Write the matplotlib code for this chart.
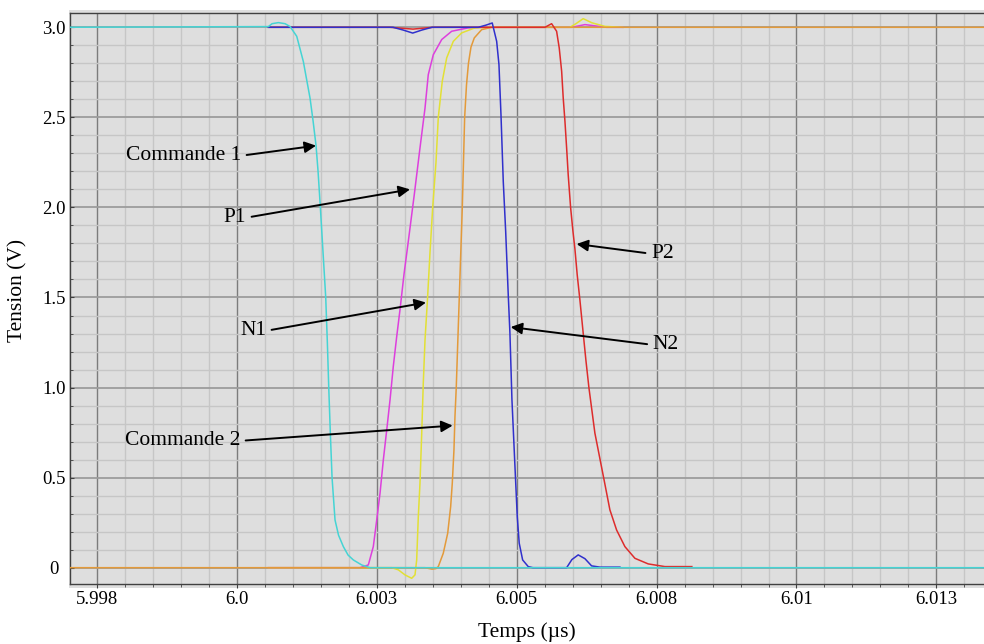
import matplotlib
matplotlib.use("Agg")
import matplotlib.pyplot as plt
from matplotlib.ticker import MultipleLocator, FixedLocator, FixedFormatter
from matplotlib.patches import Rectangle

plt.rcParams['font.family'] = ['Liberation Serif', 'DejaVu Serif']

# --- data (time in µs, voltage in V) ---
cmd1_t = [5.99680, 6.000564, 6.00063, 6.000743, 6.000863, 6.000952, 6.001071, 6.001189,
          6.001309, 6.001363, 6.001416, 6.001452, 6.001493, 6.001541, 6.001589, 6.001618,
          6.001643, 6.001671, 6.001702, 6.001755, 6.001818, 6.001904, 6.001988, 6.002082,
          6.002232, 6.00238, 6.0136]
cmd1_v = [3.0, 3.004, 3.02, 3.026, 3.02, 3.004, 2.95, 2.81,
          2.606, 2.48, 2.343, 2.2, 2.0, 1.75, 1.5, 1.25,
          1.0, 0.75, 0.5, 0.265, 0.18, 0.117, 0.07, 0.043,
          0.015, 0.0, 0.0]

cmd2_t = [5.99680, 6.003363, 6.003488, 6.003559, 6.0036, 6.003689, 6.003768, 6.003821,
          6.00385, 6.00388, 6.003898, 6.003921, 6.003948, 6.003975, 6.004002, 6.004029,
          6.00405, 6.004071, 6.004104, 6.004139, 6.004184, 6.004243, 6.004375, 6.004554,
          6.0136]
cmd2_v = [0.0, 0.0, -0.008, -0.005, 0.006, 0.08, 0.191, 0.339,
          0.469, 0.654, 0.839, 1.0, 1.25, 1.5, 1.75, 2.0,
          2.25, 2.5, 2.68, 2.8, 2.89, 2.941, 2.987, 3.0,
          3.0]

p1_t = [6.000564, 6.002202, 6.00235, 6.002439, 6.0025, 6.002559, 6.002618, 6.002679,
        6.002738, 6.002796, 6.002857, 6.002916, 6.002988, 6.003064, 6.003171, 6.003273,
        6.003363, 6.003421, 6.003511, 6.003661, 6.003839, 6.004136, 6.004345, 6.005982,
        6.00622, 6.006607, 6.006898]
p1_v = [0.0, 0.0, 0.015, 0.117, 0.265, 0.413, 0.598, 0.765,
        0.932, 1.117, 1.283, 1.432, 1.63, 1.811, 2.071, 2.33,
        2.552, 2.737, 2.848, 2.932, 2.978, 2.997, 3.0, 3.0,
        3.015, 3.0, 3.0]

n1_t = [6.000564, 6.002768, 6.002886, 6.003005, 6.003125, 6.003184, 6.003214, 6.003243,
        6.003273, 6.003304, 6.003332, 6.003363, 6.003407, 6.003452, 6.0035, 6.003559,
        6.0036, 6.003671, 6.00375, 6.003868, 6.004018, 6.004255, 6.004523, 6.005952,
        6.006059, 6.006189, 6.006345, 6.00658, 6.006898]
n1_v = [0.0, 0.0, -0.012, -0.04, -0.059, -0.04, 0.043, 0.283,
        0.469, 0.747, 1.024, 1.265, 1.49, 1.75, 2.0, 2.25,
        2.5, 2.7, 2.83, 2.922, 2.969, 2.997, 3.0, 3.0,
        3.02, 3.048, 3.025, 3.005, 3.0]

p2_t = [6.000564, 6.002738, 6.003148, 6.003505, 6.005505, 6.005625, 6.005714, 6.005761,
        6.005804, 6.005832, 6.005863, 6.005893, 6.005921, 6.005964, 6.006005, 6.006041,
        6.006082, 6.00613, 6.006189, 6.006238, 6.006291, 6.006398, 6.006554, 6.006666,
        6.006786, 6.006934, 6.007113, 6.00735, 6.007648, 6.00813]
p2_v = [3.0, 3.0, 2.99, 3.0, 3.0, 3.02, 2.978, 2.885,
        2.756, 2.608, 2.478, 2.33, 2.182, 2.0, 1.87, 1.77,
        1.626, 1.487, 1.302, 1.15, 1.0, 0.747, 0.5, 0.321,
        0.209, 0.117, 0.052, 0.021, 0.006, 0.006]

n2_t = [6.000564, 6.002791, 6.00297, 6.003143, 6.003309, 6.003488, 6.004314, 6.004452,
        6.004564, 6.004643, 6.004684, 6.00472, 6.004761, 6.004804, 6.00485, 6.00488,
        6.004916, 6.00497, 6.005011, 6.005046, 6.005107, 6.005207, 6.005291, 6.005893,
        6.005987, 6.0061, 6.00622, 6.006339, 6.006488, 6.006845]
n2_v = [3.0, 3.0, 2.985, 2.968, 2.985, 3.0, 3.0, 3.012,
        3.024, 2.922, 2.793, 2.515, 2.144, 1.867, 1.515, 1.302,
        0.932, 0.561, 0.283, 0.136, 0.043, 0.006, 0.0, 0.0,
        0.045, 0.071, 0.05, 0.01, 0.003, 0.003]

x_ticks = [5.9975, 6.0, 6.0025, 6.005, 6.0075, 6.01, 6.0125]
x_labels = ["5.998", "6.0", "6.003", "6.005", "6.008", "6.01", "6.013"]
y_ticks = [0.0, 0.5, 1.0, 1.5, 2.0, 2.5, 3.0]
y_labels = ["0", "0.5", "1.0", "1.5", "2.0", "2.5", "3.0"]

# label, text position, arrow tip, side of text the arrow leaves from
labels = [
    ("Commande 1", (6.000077, 2.287), (6.001416, 2.343), 'right'),
    ("P1", (6.000166, 1.943), (6.003095, 2.100), 'right'),
    ("N1", (6.000523, 1.315), (6.003380, 1.472), 'right'),
    ("Commande 2", (6.000059, 0.704), (6.003857, 0.789), 'right'),
    ("P2", (6.007400, 1.743), (6.006071, 1.797), 'left'),
    ("N2", (6.007430, 1.237), (6.004893, 1.336), 'left'),
]

W, H = 984, 644
bg = '#dedede'
fig = plt.figure(figsize=(W / 100, H / 100), dpi=100)
# gray panel slightly larger than the axes (ticks live inside it)
panel = Rectangle((69 / W, 1 - 588 / H), 1 - 69 / W, (588 - 10) / H,
                  transform=fig.transFigure, facecolor=bg, edgecolor='none', zorder=-10)
fig.patches.append(panel)
ax = fig.add_axes([70 / W, 1 - 584 / H, 1 - 70 / W, (584 - 13) / H])
ax.set_zorder(1)
ax.set_facecolor(bg)

lw = 1.1
ax.plot(p1_t, p1_v, color='#dd3fdd', lw=lw, zorder=3)
ax.plot(n1_t, n1_v, color='#e2e035', lw=lw, zorder=4)
ax.plot(cmd2_t, cmd2_v, color='#e39a3a', lw=lw, zorder=5)
ax.plot(p2_t, p2_v, color='#dd2c2c', lw=lw, zorder=6)
ax.plot(n2_t, n2_v, color='#3030cc', lw=lw, zorder=7)
ax.plot(cmd1_t, cmd1_v, color='#45d4d4', lw=lw, zorder=8)

for text, xytext, xy, side in labels:
    rel = (1, 0.5) if side == 'right' else (0, 0.5)
    ax.annotate(text, xy=xy, xytext=xytext, ha=side, va='center', fontsize=15.5,
                zorder=10,
                arrowprops=dict(arrowstyle='-|>', color='black', lw=1.4, shrinkA=2,
                                shrinkB=0, mutation_scale=17, relpos=rel))

ax.set_xlim(5.99702, 6.01335)
ax.set_ylim(-0.0906, 3.0794)
ax.xaxis.set_major_locator(FixedLocator(x_ticks))
ax.xaxis.set_major_formatter(FixedFormatter(x_labels))
ax.xaxis.set_minor_locator(MultipleLocator(0.0005))
ax.yaxis.set_major_locator(FixedLocator(y_ticks))
ax.yaxis.set_major_formatter(FixedFormatter(y_labels))
ax.yaxis.set_minor_locator(MultipleLocator(0.1))

ax.grid(which='minor', color='#c6c6c6', lw=1.0, zorder=1)
ax.xaxis.grid(which='major', color='#7c7c7c', lw=1.0, zorder=2)
ax.yaxis.grid(which='major', color='#9c9c9c', lw=1.3, zorder=2)
ax.set_axisbelow(True)

for s in ['left', 'bottom', 'top']:
    ax.spines[s].set_color('#404040')
    ax.spines[s].set_linewidth(1.0)
ax.spines['right'].set_visible(False)

ax.tick_params(axis='x', which='major', direction='out', length=3, pad=2,
               labelsize=13.5, color='#404040')
ax.tick_params(axis='x', which='minor', direction='out', length=2, color='#404040')
ax.tick_params(axis='y', which='major', direction='in', length=3, pad=11.5,
               labelsize=13.5, color='#404040')
ax.tick_params(axis='y', which='minor', direction='in', length=2.5, color='#404040')
for lab in ax.get_yticklabels():
    lab.set_ha('center')

fig.text(527 / W, 1 - 632 / H, "Temps (µs)", ha='center', va='center', fontsize=15.5)
fig.text(18 / W, 1 - 290 / H, "Tension (V)", ha='center', va='center',
         rotation=90, fontsize=15.5)

fig.savefig("out.png", dpi=100, facecolor='white')
